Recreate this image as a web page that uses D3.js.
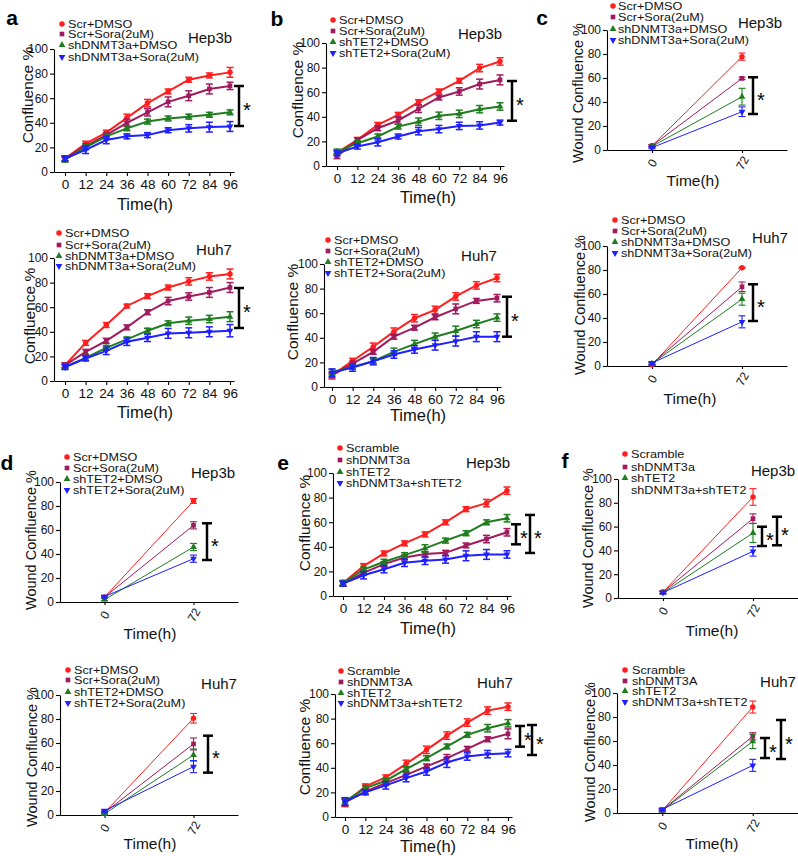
<!DOCTYPE html>
<html><head><meta charset="utf-8">
<script src="https://cdn.jsdelivr.net/npm/d3@7"></script>
<style>body{margin:0;background:#fff}svg{display:block;font-family:"Liberation Sans",Arial,sans-serif}</style>
</head><body><svg id="c" width="798" height="856"></svg>
<script>
// ---------- data ----------
const timePoints=[0,12,24,36,48,60,72,84,96];
const woundTimes=["0","72"];
const yTickValues=[0,20,40,60,80,100];
const legendDNMT3a=["Scr+DMSO","Scr+Sora(2uM)","shDNMT3a+DMSO","shDNMT3a+Sora(2uM)"];
const legendTET2=["Scr+DMSO","Scr+Sora(2uM)","shTET2+DMSO","shTET2+Sora(2uM)"];
const legendCombo=["Scramble","shDNMT3a","shTET2","shDNMT3a+shTET2"];
const legendComboA=["Scramble","shDNMT3A","shTET2","shDNMT3a+shTET2"];

// a: proliferation, shDNMT3a +/- sorafenib
const aHep3bMean=[[11,23,32,44,56,65.5,75,78.5,81],[11,21,30,40,48.5,57,62,67.5,70],[10,20,29,35.5,41,43.5,45,46.5,48.5],[11,18,26,29,30,34,35.5,36.5,37]];
const aHep3bErr=[[2,2,2,3,3,2,2,2,4],[2,2,2,3,3,4,4,4,3],[2,2,2,2,2,2,2,2,2],[2,3,3,2,2,2,3,4,4]];
const aHuh7Mean=[[12.8,31,45.5,61,69,76,81,85,87],[12.8,23.7,32.7,43.6,55.9,65,68.7,72,76],[11.4,18.8,27,33.8,40.9,46.9,49,50.4,52.3],[11.4,18.3,24.5,31.9,35.1,38.7,39.2,40,40.9]];
const aHuh7Err=[[2,2,2,1.5,2,2,3,3,4],[2,2,2,2,2,3,3,4,4],[2,2,2,2,2,2,3,3,4],[2,2,3,3,3,4,4,4,5]];
// b: proliferation, shTET2 +/- sorafenib
const bHep3bMean=[[10.9,21.2,33.4,41.6,51.9,60.6,69.3,79.6,85],[8,21,30.7,37,46.5,55.7,60.6,66.6,70],[11.7,18.5,24,32,36,40.8,42.4,46.2,48.4],[10.3,15.8,19.3,24,28.3,30,32.6,33,35.3]];
const bHep3bErr=[[2,2,2,2,2,2,2,3,3],[2,2,2,3,3,2,3,4,4],[2,2,2,2,3,3,3,3,3],[2,2,3,2,3,3,3,3,2]];
const bHuh7Mean=[[9.5,21.3,32.7,45,55.9,62.7,73.6,82.6,88.6],[9.5,19,28.6,40.9,48.2,56.7,63.5,70,72.2],[12.3,16.3,21,28.6,34.9,40.9,45.5,51.2,56.4],[11.7,15.8,21,26.4,30.5,34,37.3,40.9,40.9]];
const bHuh7Err=[[3,2,3,3,3,3,3,3,3],[2,2,2,2,2,2,4,2,3],[2,2,2,3,3,3,4,3,3],[3,3,3,3,3,4,4,4,4]];
// c: wound healing, shDNMT3a
const cHep3bMean=[[3.5,77.8],[3.5,59.7],[3,44.4],[2,31.9]];
const cHep3bErr=[[1,3],[1,1],[1,7],[1,4]];
const cHuh7Mean=[[1,81.9],[2,66],[2,55.7],[2.5,36.8]];
const cHuh7Err=[[0.5,0.5],[1,4],[1,5],[1,5]];
// d: wound healing, shTET2
const dHep3bMean=[[4,84.2],[4,63.9],[2,45.8],[4.5,36.1]];
const dHep3bErr=[[1,2],[1,3],[1,3],[1,3]];
const dHuh7Mean=[[2,80.6],[2,59.2],[1,50],[3.5,40.3]];
const dHuh7Err=[[1,4],[1,5],[1,5],[1,5]];
// e: proliferation, combined knockdown
const eHep3bMean=[[10.6,24.3,34.6,42.8,50.1,59.9,70.6,75.5,85.6],[10,18.8,25.9,31.3,34.1,35.1,41.1,46.3,51.8],[10.6,21.5,27.8,33.2,38.7,45,51,59.9,63.2],[10,16.9,21.8,27,28.6,29.7,32.7,33.8,33.8]];
const eHep3bErr=[[2,2,2,2,2,2,2,3,3],[2,2,2,2,2,2,2,3,3],[2,2,2,2,3,2,2,2,3],[2,3,3,3,3,3,4,4,3]];
const eHuh7Mean=[[11.4,24.9,32.2,43.2,54.6,66.2,76.8,86.5,89.7],[11.9,20.8,27.6,34.3,41.1,47.8,55.4,63.2,67.6],[12.7,23.5,29.5,38.9,47.8,57.3,66.8,72.2,76.2],[12.7,20,25.7,31.6,37,44.3,49.2,51.1,51.9]];
const eHuh7Err=[[3,2,2,3,3,3,3,3,3],[3,2,2,2,2,3,2,2,4],[3,2,2,2,2,2,2,3,3],[3,2,3,3,3,4,3,3,3]];
// f: wound healing, combined knockdown
const fHep3bMean=[[5,84.9],[5,66.7],[4.5,54.6],[4.5,39.2]];
const fHep3bErr=[[1,7],[1,4],[1,8],[1,4]];
const fHuh7Mean=[[2,88.3],[2.5,63.9],[2,59.7],[3,39.7]];
const fHuh7Err=[[1,5],[1,3],[1,6],[1,5]];

// ---------- layout ----------
const panels=[
 {type:"time",letter:"a",lp:[12,17],cell:"Hep3b",cp:[210,37],legend:legendDNMT3a,lg:{mx:62,tx:68,ys:[24,34,45,57]},ax:54,y0:172,y100:49,x0:65,x96:230,xEnd:234,ylab:[33,95],xt:[145,204],mean:aHep3bMean,err:aHep3bErr,br:[{x:239,v1:69.9,v2:37.4}]},
 {type:"time",cell:"Huh7",cp:[214,249],legend:legendDNMT3a,lg:{mx:59,tx:65,ys:[233,245,256,266]},ax:54,y0:381,y100:258,x0:65,x96:230,xEnd:234,ylab:[35,316],xt:[145,412],mean:aHuh7Mean,err:aHuh7Err,br:[{x:239,v1:75.6,v2:43.1}]},
 {type:"time",letter:"b",lp:[277,18],cell:"Hep3b",cp:[480,33],legend:legendTET2,lg:{mx:333,tx:339,ys:[20,31,42,53]},ax:326,y0:166,y100:43,x0:337,x96:500,xEnd:504,ylab:[303,90],xt:[428,197],mean:bHep3bMean,err:bHep3bErr,br:[{x:512,v1:69.1,v2:36.8}]},
 {type:"time",cell:"Huh7",cp:[479,255],legend:legendTET2,lg:{mx:328,tx:334,ys:[240,251,262,273]},ax:324,y0:387,y100:264,x0:332,x96:497,xEnd:501,ylab:[298,312],xt:[418,415],mean:bHuh7Mean,err:bHuh7Err,br:[{x:507,v1:73.4,v2:40.9}]},
 {type:"wound",letter:"c",lp:[542,17],cell:"Hep3b",cp:[760,22],legend:legendDNMT3a,lg:{mx:613,tx:618,ys:[6,17,29,40]},ax:607,y0:150,y100:30,xEnd:787,ylab:[583,93],xt:[693,180],mean:cHep3bMean,err:cHep3bErr,br:[{x:753,v1:60.6,v2:30}]},
 {type:"wound",cell:"Huh7",cp:[770,237],legend:legendDNMT3a,lg:{mx:615,tx:621,ys:[220,231,242,253]},ax:607,y0:366,y100:246,xEnd:787,ylab:[585,305],xt:[690,398],mean:cHuh7Mean,err:cHuh7Err,br:[{x:753,v1:68.1,v2:37.5}]},
 {type:"wound",letter:"d",lp:[7,462],cell:"Hep3b",cp:[213,472],legend:legendTET2,lg:{mx:67,tx:73,ys:[457,468,479,490]},ax:60,y0:602,y100:482,xEnd:238,ylab:[36,540],xt:[150,633],mean:dHep3bMean,err:dHep3bErr,br:[{x:207,v1:65.6,v2:35}]},
 {type:"wound",cell:"Huh7",cp:[219,683],legend:legendTET2,lg:{mx:68,tx:74,ys:[670,680,692,703]},ax:60,y0:815,y100:695,xEnd:238,ylab:[37,757],xt:[150,843],mean:dHuh7Mean,err:dHuh7Err,br:[{x:208,v1:66.1,v2:35.3}]},
 {type:"time",letter:"e",lp:[283,462],cell:"Hep3b",cp:[488,462],legend:legendCombo,lg:{mx:340,tx:346,ys:[448,460,472,483]},ax:333,y0:596,y100:473,x0:343,x96:507,xEnd:511,ylab:[310,523],xt:[428,628],mean:eHep3bMean,err:eHep3bErr,br:[{x:516,v1:58.3,v2:42},{x:530,v1:65.9,v2:35}]},
 {type:"time",cell:"Huh7",cp:[495,682],legend:legendComboA,lg:{mx:341,tx:347,ys:[671,682,693,703]},ax:335,y0:817,y100:694,x0:345,x96:508,xEnd:512,ylab:[310,747],xt:[428,846],mean:eHuh7Mean,err:eHuh7Err,br:[{x:520,v1:74,v2:57.2},{x:532,v1:74.8,v2:50.4}]},
 {type:"wound",letter:"f",lp:[565,460],cell:"Hep3b",cp:[773,470],legend:legendCombo,noMarker:[3],lg:{mx:625,tx:631,ys:[454,467,478,490]},ax:618,y0:598,y100:479,xEnd:798,ylab:[593,538],xt:[712,630],mean:fHep3bMean,err:fHep3bErr,br:[{x:762,v1:59.9,v2:43.7},{x:777,v1:68.3,v2:44.3}]},
 {type:"wound",cell:"Huh7",cp:[778,681],legend:legendComboA,lg:{mx:625,tx:632,ys:[670,681,691,702]},ax:617,y0:813,y100:693,xEnd:798,ylab:[595,752],xt:[712,843],mean:fHuh7Mean,err:fHuh7Err,br:[{x:765,v1:62.5,v2:45.8},{x:781,v1:77.5,v2:45}]}
];

const colors=["#ff1f1f","#a01a5e","#1f7d1f","#1f1fff"];
const shapes=[d3.symbolCircle,d3.symbolSquare,d3.symbolTriangle,d3.symbolTriangle];
const rots=[0,0,0,180];
const symSize=[24,22,20,20];

const svg=d3.select("#c");

panels.forEach(p=>{
  const g=svg.append("g");
  const isTime=p.type==="time";
  const y=d3.scaleLinear().domain([0,100]).range([p.y0,p.y100]);
  let x,xAxisScale,xs;
  if(isTime){
    x=d3.scaleLinear().domain([0,96]).range([p.x0,p.x96]);
    xAxisScale=x.copy().domain([x.invert(p.ax),x.invert(p.xEnd)]).range([p.ax,p.xEnd]);
    xs=timePoints;
  }else{
    x=d3.scalePoint().domain(woundTimes).range([p.ax,p.xEnd]).padding(0.5);
    xAxisScale=x;
    xs=woundTimes;
  }
  // y axis
  const ya=g.append("g").attr("transform",`translate(${p.ax},0)`)
    .call(d3.axisLeft(y).tickValues(yTickValues).tickSize(4).tickSizeOuter(0).tickPadding(2));
  ya.selectAll("text").attr("font-size",12).attr("fill","#111");
  // x axis
  const xa=g.append("g").attr("transform",`translate(0,${p.y0})`);
  if(isTime){
    xa.call(d3.axisBottom(xAxisScale).tickValues(timePoints).tickSize(4).tickSizeOuter(0).tickPadding(3));
    xa.selectAll("text").attr("font-size",13.5).attr("fill","#111");
  }else{
    xa.call(d3.axisBottom(xAxisScale).tickSize(3).tickSizeOuter(0).tickPadding(4));
    xa.selectAll(".tick text").attr("font-size",12).attr("fill","#111")
      .attr("text-anchor","middle").attr("dy","0").attr("y",0)
      .attr("transform","translate(0,13) rotate(-60)").attr("dominant-baseline","central");
  }
  g.selectAll(".domain, .tick line").attr("stroke","#000").attr("stroke-width",1.1);

  // axis titles
  g.append("text").attr("transform",`translate(${p.ylab[0]},${p.ylab[1]}) rotate(-90)`)
    .attr("text-anchor","middle").attr("font-size",isTime?15.5:14.5).attr("fill","#111")
    .text(isTime?"Confluence %":"Wound Confluence %");
  g.append("text").attr("x",p.xt[0]).attr("y",p.xt[1]).attr("text-anchor","middle")
    .attr("dominant-baseline","central").attr("font-size",isTime?16.5:15.5).attr("fill","#111").text("Time(h)");

  // series
  const lw=isTime?2:1;
  p.mean.forEach((vals,i)=>{
    const pts=vals.map((v,j)=>({x:x(xs[j]),y:y(v),lo:y(v-p.err[i][j]),hi:y(v+p.err[i][j])}));
    g.append("path").datum(pts).attr("fill","none").attr("stroke",colors[i]).attr("stroke-width",lw)
      .attr("d",d3.line().x(d=>d.x).y(d=>d.y));
    const eb=g.append("g").attr("stroke",colors[i]).attr("stroke-width",isTime?1.5:1.1);
    pts.forEach(d=>{
      eb.append("line").attr("x1",d.x).attr("x2",d.x).attr("y1",d.lo).attr("y2",d.hi);
      eb.append("line").attr("x1",d.x-3.5).attr("x2",d.x+3.5).attr("y1",d.lo).attr("y2",d.lo);
      eb.append("line").attr("x1",d.x-3.5).attr("x2",d.x+3.5).attr("y1",d.hi).attr("y2",d.hi);
    });
    g.append("g").selectAll("path").data(pts).join("path")
      .attr("transform",d=>`translate(${d.x},${d.y}) rotate(${rots[i]})`)
      .attr("d",d3.symbol().type(shapes[i]).size(symSize[i])).attr("fill",colors[i]);
  });

  // legend (text slightly stretched horizontally like the source figure)
  p.legend.forEach((name,i)=>{
    const ly=p.lg.ys[i];
    if(!(p.noMarker&&p.noMarker.includes(i))){
      g.append("path").attr("transform",`translate(${p.lg.mx},${ly}) rotate(${rots[i]})`)
        .attr("d",d3.symbol().type(shapes[i]).size(symSize[i])).attr("fill",colors[i]);
    }
    g.append("text").attr("transform",`translate(${p.lg.tx},${ly}) scale(1.15,1)`)
      .attr("dominant-baseline","central")
      .attr("font-size",11).attr("fill","#111").text(name);
  });

  // cell line
  g.append("text").attr("x",p.cp[0]).attr("y",p.cp[1]).attr("text-anchor","middle")
    .attr("dominant-baseline","central").attr("font-size",15).attr("fill","#111").text(p.cell);

  // panel letter
  if(p.letter){
    g.append("text").attr("x",p.lp[0]).attr("y",p.lp[1]).attr("text-anchor","middle")
      .attr("dominant-baseline","central").attr("font-size",21).attr("font-weight","bold").text(p.letter);
  }

  // significance brackets
  p.br.forEach(b=>{
    const t=y(b.v1),u=y(b.v2);
    const bg=g.append("g").attr("stroke","#000").attr("stroke-width",2.5);
    bg.append("line").attr("x1",b.x).attr("x2",b.x).attr("y1",t).attr("y2",u);
    bg.append("line").attr("x1",b.x-5).attr("x2",b.x+5).attr("y1",t).attr("y2",t);
    bg.append("line").attr("x1",b.x-5).attr("x2",b.x+5).attr("y1",u).attr("y2",u);
    g.append("text").attr("x",b.x+8).attr("y",(t+u)/2+11).attr("text-anchor","middle")
      .attr("font-size",20).attr("fill","#000").text("*");
  });
});
</script></body></html>
